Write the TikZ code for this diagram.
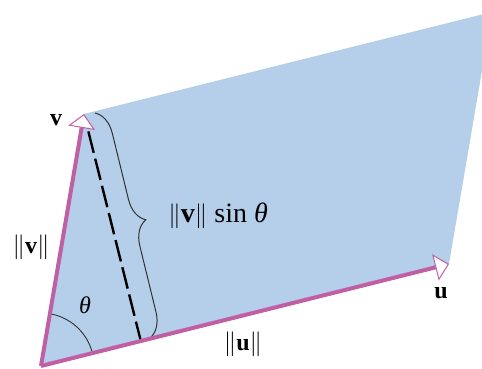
\documentclass[tikz,border=0pt]{standalone}
\usepackage{fontspec}
\setmainfont{Liberation Serif}
\usetikzlibrary{arrows.meta,calc,decorations.pathreplacing}
\definecolor{pfill}{RGB}{181,206,233}
\definecolor{vpink}{RGB}{192,96,164}
\definecolor{bracec}{RGB}{50,50,50}
\begin{document}
\begin{tikzpicture}[x=1pt,y=1pt,
  vec/.style={line width=4pt, draw=vpink,
    -{Triangle[length=14pt,width=27pt,fill=white,line width=1pt 0]}},
  height/.style={line width=2.4pt, dash pattern=on 22pt off 6pt},
  lab/.style={font=\fontsize{24}{28}\selectfont, inner sep=0pt},
  biglab/.style={font=\fontsize{28}{32}\selectfont, inner sep=0pt},
  brc/.style={draw=bracec, line width=1pt,
    decorate, decoration={brace, amplitude=24pt}},
  anglearc/.style={draw=bracec, line width=0.9pt}]
\useasboundingbox (0,0) rectangle (482,369);
\clip (0,0) rectangle (482,369);
\coordinate (O) at (41,3);
\coordinate (U) at (449,105);
\coordinate (V) at (84,255);
\coordinate (W) at (492,357);
\coordinate (F) at (140.8,28);
\coordinate (B1) at (95,256);
\coordinate (B2) at (150,31);
\fill[pfill] (O) -- (U) -- (W) -- (V) -- cycle;
\draw[height, shorten <=18pt] (V) -- (F);
\draw[brc] (B1) -- (B2);
\draw[anglearc] ($(O)!53pt!(U)$) arc[start angle=14.04, end angle=80.32, radius=53pt];
\draw[vec] (O) -- (U);
\draw[vec] (O) -- (V);
\node[lab] (lv) at (56,249) {\textbf{v}};
\node[lab] (lnv) at (31,122) {$\|$\textbf{v}$\|$};
\node[biglab, anchor=east] (lh) at (268,153) {$\|$\textbf{v}$\|$ sin \textit{θ}};
\node[lab] (lnu) at (243,25) {$\|$\textbf{u}$\|$};
\node[lab] (lu) at (441,76) {\textbf{u}};
\node[lab] (lt) at (85,64) {\textit{θ}};
\end{tikzpicture}
\end{document}
